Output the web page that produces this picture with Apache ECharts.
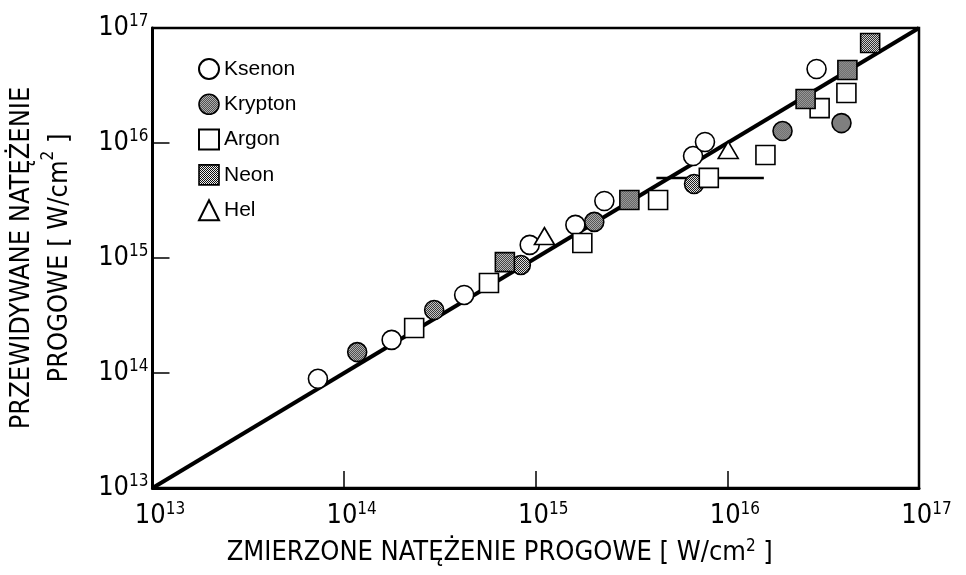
<!DOCTYPE html>
<html>
<head>
<meta charset="utf-8">
<script src="https://cdn.jsdelivr.net/npm/echarts@6/dist/echarts.min.js"></script>
<style>
  html, body { margin: 0; padding: 0; background: #fff; }
  #chart { width: 966px; height: 575px; }
</style>
</head>
<body>
<div id="chart"></div>
<script>
// punkty (x = zmierzone, y = przewidywane) [W/cm2]
var ksenonX = [7.3e13, 1.77e14, 4.23e14, 9.3e14, 1.61e15, 2.28e15, 6.62e15, 7.64e15, 2.92e16];
var ksenonY = [8.9e13, 1.94e14, 4.77e14, 1.30e15, 1.94e15, 3.13e15, 7.7e15, 1.02e16, 4.4e16];

var kryptonX = [1.17e14, 2.95e14, 8.36e14, 2.02e15, 6.7e15, 1.94e16, 3.94e16];
var kryptonY = [1.52e14, 3.53e14, 8.7e14, 2.06e15, 4.4e15, 1.27e16, 1.49e16];

var argonX = [2.32e14, 5.7e14, 1.75e15, 4.35e15, 8.0e15, 1.58e16, 3.03e16, 4.18e16];
var argonY = [2.46e14, 6.07e14, 1.35e15, 3.19e15, 4.97e15, 7.87e15, 2.01e16, 2.72e16];

var neonX = [6.9e14, 3.08e15, 2.56e16, 4.23e16, 5.56e16];
var neonY = [9.2e14, 3.19e15, 2.41e16, 4.31e16, 7.41e16];

var helX = [1.11e15, 1.01e16];
var helY = [1.55e15, 8.7e15];

// slupek bledu dla punktu argonu
var argonErrX = [4.26e15, 1.55e16];
var argonErrY = [4.97e15, 4.97e15];

// prosta y = x
var lineX = [1e13, 1e17];
var lineY = [1e13, 1e17];

var SYM = 19;

function pairs(xs, ys) {
    var out = [];
    for (var i = 0; i < xs.length; i++) out.push([xs[i], ys[i]]);
    return out;
}

// kratkowane wypelnienie (szachownica 1px)
function hatch() {
    var c = document.createElement('canvas');
    c.width = 2; c.height = 2;
    var g = c.getContext('2d');
    g.fillStyle = '#fff';
    g.fillRect(0, 0, 2, 2);
    g.fillStyle = '#000';
    g.fillRect(0, 0, 1, 1);
    g.fillRect(1, 1, 1, 1);
    return c;
}
// symbole scatter sa skalowane o size/2, wiec wzor trzeba pomniejszyc
var hatchFill = { image: hatch(), repeat: 'repeat', scaleX: 2 / SYM, scaleY: 2 / SYM };
var hatchLegend = { image: hatch(), repeat: 'repeat' };

var FONT = "'Liberation Sans Narrow', 'DejaVu Sans Condensed', 'Liberation Sans', sans-serif";

function powLabel(v) {
    var e = Math.round(Math.log(v) / Math.LN10);
    return '{b|10}{s|' + e + '}';
}
var powRich = {
    b: { fontSize: 27, fontFamily: FONT, color: '#000', lineHeight: 30 },
    s: { fontSize: 17, fontFamily: FONT, color: '#000', verticalAlign: 'top', lineHeight: 17 }
};

var chart = echarts.init(document.getElementById('chart'), null, { renderer: 'canvas' });

var legendData = [
    { name: 'Ksenon' },
    { name: 'Krypton', itemStyle: { color: hatchLegend, borderColor: '#000', borderWidth: 1.6 } },
    { name: 'Argon' },
    { name: 'Neon', itemStyle: { color: hatchLegend, borderColor: '#000', borderWidth: 1.6 } },
    { name: 'Hel' }
];

var option = {
    backgroundColor: '#fff',
    animation: false,
    grid: {
        left: 149, right: 47, top: 28, bottom: 87,
        show: true, borderColor: '#000', borderWidth: 2.5, backgroundColor: 'transparent'
    },
    legend: {
        data: legendData,
        orient: 'vertical',
        left: 193, top: 53,
        itemWidth: 20, itemHeight: 20, itemGap: 13.5,
        textStyle: { fontSize: 21, fontFamily: "'Liberation Sans', sans-serif", color: '#000' }
    },
    xAxis: {
        type: 'log', logBase: 10, min: 1e13, max: 1e17,
        name: '{t|ZMIERZONE NATĘŻENIE PROGOWE [ W/cm}{s|2}{t| ]}',
        nameLocation: 'middle', nameGap: 50,
        nameTextStyle: {
            padding: [0, 72, 0, 0],
            rich: {
                t: { fontSize: 27, fontFamily: FONT, color: '#000', lineHeight: 30 },
                s: { fontSize: 17, fontFamily: FONT, color: '#000', verticalAlign: 'top', lineHeight: 17 }
            }
        },
        axisLine: { lineStyle: { color: '#000', width: 3 } },
        axisTick: { inside: true, length: 17, lineStyle: { color: '#000', width: 1.5 } },
        minorTick: { show: false },
        splitLine: { show: false },
        axisLabel: {
            formatter: powLabel, rich: powRich, margin: 13,
            padding: [0, 0, 0, 15]
        }
    },
    yAxis: {
        type: 'log', logBase: 10, min: 1e13, max: 1e17,
        name: '{t|PRZEWIDYWANE NATĘŻENIE}\n{t|PROGOWE [ W/cm}{s|2}{t| ]}',
        nameLocation: 'middle', nameGap: 74, nameRotate: 90,
        nameTextStyle: {
            align: 'center',
            rich: {
                t: { fontSize: 27, fontFamily: FONT, color: '#000', lineHeight: 38 },
                s: { fontSize: 17, fontFamily: FONT, color: '#000', verticalAlign: 'top', lineHeight: 26 }
            }
        },
        axisLine: { lineStyle: { color: '#000', width: 3 } },
        axisTick: { inside: true, length: 17, lineStyle: { color: '#000', width: 1.5 } },
        minorTick: { show: false },
        splitLine: { show: false },
        axisLabel: { formatter: powLabel, rich: powRich, margin: 4 }
    },
    series: [
        {
            name: 'fit', type: 'line', data: pairs(lineX, lineY),
            symbol: 'none', z: 1, silent: true,
            lineStyle: { color: '#000', width: 4 }
        },
        {
            name: 'err', type: 'line', data: pairs(argonErrX, argonErrY),
            symbol: 'none', z: 1, silent: true,
            lineStyle: { color: '#000', width: 2.5 }
        },
        {
            name: 'Ksenon', type: 'scatter', symbol: 'circle', symbolSize: SYM, z: 3,
            data: pairs(ksenonX, ksenonY),
            itemStyle: { color: '#fff', borderColor: '#000', borderWidth: 1.6, opacity: 1 }
        },
        {
            name: 'Krypton', type: 'scatter', symbol: 'circle', symbolSize: SYM, z: 3,
            data: pairs(kryptonX, kryptonY),
            itemStyle: { color: hatchFill, borderColor: '#000', borderWidth: 1.6, opacity: 1 }
        },
        {
            name: 'Argon', type: 'scatter', symbol: 'rect', symbolSize: SYM, z: 3,
            data: pairs(argonX, argonY),
            itemStyle: { color: '#fff', borderColor: '#000', borderWidth: 1.6, opacity: 1 }
        },
        {
            name: 'Neon', type: 'scatter', symbol: 'rect', symbolSize: SYM, z: 3,
            data: pairs(neonX, neonY),
            itemStyle: { color: hatchFill, borderColor: '#000', borderWidth: 1.6, opacity: 1 }
        },
        {
            name: 'Hel', type: 'scatter', symbol: 'triangle', symbolSize: [20, 17], z: 3,
            data: pairs(helX, helY),
            itemStyle: { color: '#fff', borderColor: '#000', borderWidth: 1.6, opacity: 1 }
        }
    ]
};

chart.setOption(option);
</script>
</body>
</html>
